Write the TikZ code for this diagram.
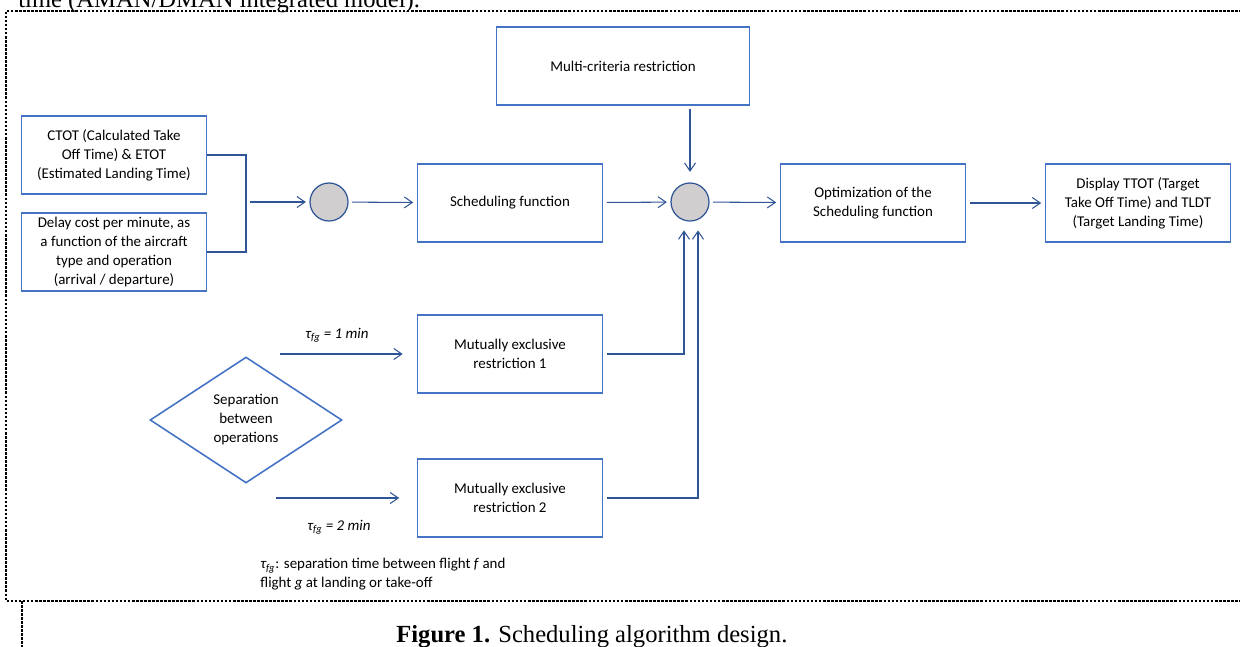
\documentclass[tikz,border=0pt]{standalone}
\usepackage{fontspec}
\setmainfont{Carlito}
\newfontfamily\serifcap{Liberation Serif}
\usepackage{tikz}
\usetikzlibrary{arrows.meta,shapes.geometric}
\definecolor{boxblue}{RGB}{68,114,196}
\definecolor{lineblue}{RGB}{47,85,151}
\definecolor{sumgray}{RGB}{208,206,206}

\begin{document}
\begin{tikzpicture}[x=0.02cm, y=-0.02cm,
    rbox/.style={draw=boxblue, line width=0.9pt, minimum width=3.7cm, minimum height=1.56cm, align=center, font=\fontsize{8.5}{10.8}\selectfont, inner sep=2pt},
    sumnode/.style={circle, draw=lineblue, fill=sumgray, line width=0.7pt, minimum size=0.76cm, inner sep=0pt},
    arrow/.style={-{Straight Barb[length=1.6mm, width=2.2mm]}, lineblue, line width=0.6pt, shorten <=2pt, shorten >=2pt},
    link/.style={lineblue, line width=0.6pt},
    frame/.style={dash pattern=on 1.5pt off 0.8pt, line width=0.7pt},
    note/.style={font=\fontsize{8.5}{10.8}\selectfont}
]
\useasboundingbox (0,0) rectangle (1240,646);

% === Page text and frame ===
\node[font=\serifcap\fontsize{14}{16}\selectfont, anchor=base west, inner sep=0pt] (toptext) at (18,7) {time (AMAN/DMAN integrated model).};
\draw[frame] (1250,11) -- (6,11) -- (6,601) -- (1250,601);
\draw[frame] (22,601) -- (22,660);
\node[font=\serifcap\fontsize{14}{16}\selectfont, anchor=base west, inner sep=0pt] (caption) at (396,642) {\textbf{Figure 1.} Scheduling algorithm design.};

% === Inputs ===
\node[rbox] (ctot) at (114,155) {CTOT (Calculated Take\\Off Time) \& ETOT\\(Estimated Landing Time)};
\node[rbox] (delay) at (114,252) {Delay cost per minute, as\\a function of the aircraft\\type and operation\\(arrival / departure)};
\coordinate (join) at (246,202);
\draw[link] (ctot.east) -| (join);
\draw[link] (delay.east) -| (join);

\node[sumnode] (sum1) at (329,202) {};
\draw[arrow] (join) -- (sum1);

% === Main chain ===
\node[rbox] (sched) at (510,203) {Scheduling function};
\node[sumnode] (sum2) at (690,202) {};
\node[rbox] (optim) at (873,203) {Optimization of the\\Scheduling function};
\node[rbox] (display) at (1138,203) {Display TTOT (Target\\Take Off Time) and TLDT\\(Target Landing Time)};
\node[rbox, minimum width=5.06cm] (multi) at (623,66) {Multi-criteria restriction};

\draw[arrow] (sum1) -- (sched);
\draw[arrow] (sched) -- (sum2);
\draw[arrow] (sum2) -- (optim);
\draw[arrow] (optim) -- (display);
\draw[arrow, shorten >=6pt] (multi.south -| sum2) -- (sum2.north);

% === Separation ===
\node[diamond, draw=boxblue, line width=0.9pt, aspect=1.5, minimum width=3.84cm, minimum height=2.52cm, inner sep=0pt, align=center, font=\fontsize{8.5}{10.8}\selectfont] (sep) at (246,420) {Separation\\between\\operations};

\node[rbox] (mut1) at (510,354) {Mutually exclusive\\restriction 1};
\node[rbox] (mut2) at (510,498) {Mutually exclusive\\restriction 2};

\coordinate (up1) at (276,354);
\coordinate (lo1) at (272,498);
\draw[arrow, shorten >=8pt] (up1) -- (mut1);
\draw[arrow, shorten >=10pt] (lo1) -- (mut2);
\node[note] (tau1) at (337,335) {\textit{τ\textsubscript{fg} = 1 min}};
\node[note] (tau2) at (339,527) {\textit{τ\textsubscript{fg} = 2 min}};

\draw[arrow, shorten >=5pt] (mut1.east) -| ([xshift=-0.12cm]sum2.south);
\draw[arrow, shorten >=5pt] (mut2.east) -| ([xshift=0.16cm]sum2.south);

\node[note, anchor=north west, align=left, inner sep=0pt] (footnote) at (260,558) {\textit{τ\textsubscript{fg}}: separation time between flight \textit{f} and\\flight \textit{g} at landing or take-off};

\end{tikzpicture}
\end{document}
